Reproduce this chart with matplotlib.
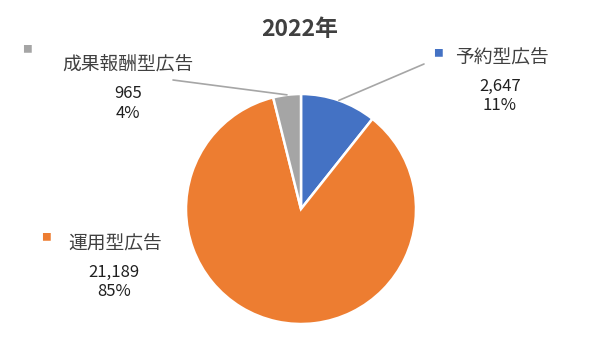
import numpy as np
import matplotlib.pyplot as plt

plt.rcParams['font.family'] = ['Noto Sans CJK JP', 'DejaVu Sans']

# data
labels = ['予約型広告', '運用型広告', '成果報酬型広告']
values = [2647, 21189, 965]
colors = ['#4472C4', '#ED7D31', '#A5A5A5']

W, H = 600, 351
fig = plt.figure(figsize=(W / 100, H / 100), dpi=100)

# pie centre / radius in pixels
cx, cy, r = 301, 209, 115
ax = fig.add_axes([(cx - r) / W, (H - cy - r) / H, 2 * r / W, 2 * r / H])
wedges, _ = ax.pie(values, colors=colors, startangle=90, counterclock=False,
                   radius=1.0, wedgeprops=dict(edgecolor='white', linewidth=1.8))
ax.set_xlim(-1, 1)
ax.set_ylim(-1, 1)
ax.set_aspect('equal')
ax.axis('off')

fig.text(300 / W, 1 - 30 / H, '2022年', ha='center', va='center',
         fontsize=16.5, fontweight='bold', color='#404040')

total = sum(values)

# label layout (pixel positions from top-left): square, name, value line 1
label_pos = [
    ((438, 53), (455, 58), (500, 86)),
    ((46, 237), (68, 244), (114, 272)),
    ((27, 49), (62, 64), (128, 93)),
]
leaders = {0: (424, 64), 2: (173, 80)}

for i, (lab, val, col) in enumerate(zip(labels, values, colors)):
    sq, nm, vl = label_pos[i]
    fig.text(sq[0] / W, 1 - sq[1] / H, '■', color=col, fontsize=7,
             ha='center', va='center')
    fig.text(nm[0] / W, 1 - nm[1] / H, lab, ha='left', va='center',
             fontsize=13.5, color='#404040')
    pct = round(val / total * 100)
    fig.text(vl[0] / W, 1 - vl[1] / H, f'{val:,}', ha='center',
             va='center', fontsize=12, color='#202020')
    fig.text(vl[0] / W, 1 - (vl[1] + 20) / H, f'{pct}%', ha='center',
             va='center', fontsize=12, color='#202020')

# leader lines
for i, end in leaders.items():
    w = wedges[i]
    ang = np.deg2rad((w.theta1 + w.theta2) / 2)
    ax.annotate('', xy=(np.cos(ang), np.sin(ang)), xycoords='data',
                xytext=(end[0], H - end[1]), textcoords='figure pixels',
                arrowprops=dict(arrowstyle='-', color='#A6A6A6', lw=1.2,
                                shrinkA=0, shrinkB=0), annotation_clip=False)

fig.savefig('out.png', dpi=100)
